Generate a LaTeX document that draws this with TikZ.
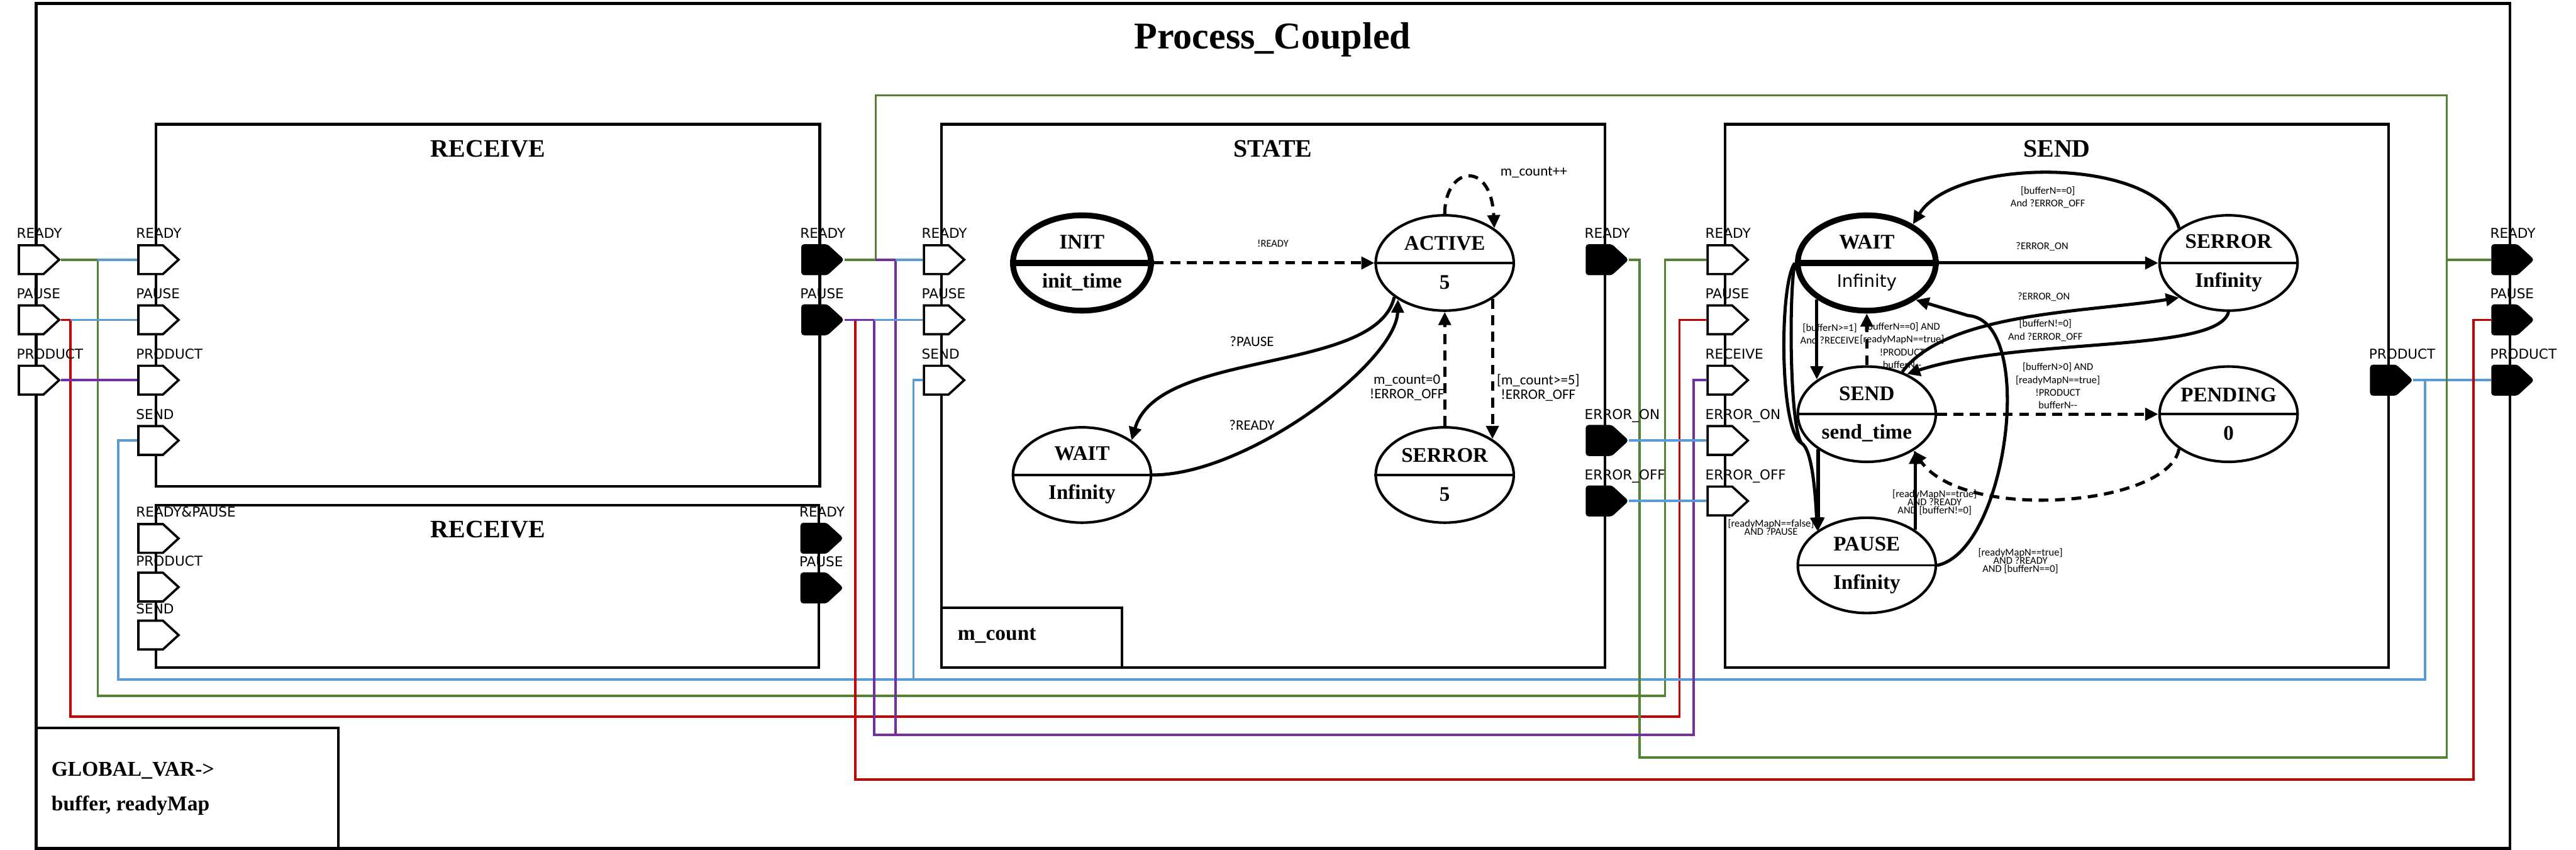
\documentclass[tikz,border=0pt]{standalone}
\usepackage{fontspec}
\setmainfont{Liberation Serif}
\newfontfamily\portfont{DejaVu Sans}
\newfontfamily\lblfont{Carlito}
\usetikzlibrary{positioning,arrows.meta,shapes.geometric,shapes.symbols,backgrounds}
\setlength{\lineskiplimit}{-5pt}

\definecolor{wireGreen}{RGB}{84,130,53}
\definecolor{wireBlue}{RGB}{91,155,213}
\definecolor{wireRed}{RGB}{192,0,0}
\definecolor{wirePurple}{RGB}{112,48,160}

\begin{document}
\begin{tikzpicture}[
  x=0.2mm, y=-0.2mm,
  boxline/.style={draw, line width=0.9pt},
  wire/.style={line width=0.8pt},
  wgreen/.style={wire, draw=wireGreen},
  wblue/.style={wire, draw=wireBlue},
  wred/.style={wire, draw=wireRed},
  wpurple/.style={wire, draw=wirePurple},
  inport/.style={signal, signal to=east, signal pointer angle=85, draw, line width=0.8pt, fill=white, minimum width=4.9mm, minimum height=3.5mm, inner sep=0pt, anchor=west},
  outport/.style={inport, fill=black, rounded corners=0.25mm},
  portlbl/.style={font=\portfont\fontsize{4.7}{5}\selectfont, inner sep=0pt, anchor=base west, xshift=-0.2mm, yshift=0.7mm},
  boxtitle/.style={font=\bfseries\fontsize{8.7}{10}\selectfont, inner sep=0pt, anchor=base},
  varname/.style={font=\bfseries\fontsize{7.3}{9}\selectfont, inner sep=0pt, anchor=base west},
  state/.style={ellipse, draw, line width=0.9pt, minimum width=16.8mm, minimum height=11.6mm, inner sep=0pt, align=center, font=\bfseries\fontsize{7.2}{13.4}\selectfont},
  initstate/.style={state, line width=2pt},
  trans/.style={line width=1.1pt, -{Triangle[length=1.6mm, width=1.5mm]}},
  dtrans/.style={trans, dash pattern=on 1.2mm off 0.8mm},
  guard/.style={font=\lblfont\fontsize{3.6}{4.4}\selectfont, align=center, inner sep=0pt},
  guardbig/.style={guard, font=\lblfont\fontsize{5}{5.1}\selectfont},
  guardtight/.style={guard, font=\lblfont\fontsize{3.6}{2.8}\selectfont}
]
\useasboundingbox (0,0) rectangle (1568,517);

% Frames
\draw[boxline] (22,2.1) rectangle (1527.7,516.2);
\draw[boxline] (95,75.6) rectangle (499,295.9);
\draw[boxline] (95,307.4) rectangle (498.5,406.1);
\draw[boxline] (573,75.6) rectangle (976.8,406);
\draw[boxline] (573,369.7) rectangle (683,406);
\draw[boxline] (1050,75.6) rectangle (1454,406);
\draw[boxline] (22,443) rectangle (206,516.2);

\node[font=\bfseries\fontsize{13.1}{15}\selectfont, inner sep=0pt, anchor=base] (title) at (774.5,29.6) {Process\_Coupled};
\node[boxtitle] (tRecv) at (297,95.4) {RECEIVE};
\node[boxtitle] (tRecvB) at (297,327.2) {RECEIVE};
\node[boxtitle] (tState) at (774.8,95.4) {STATE};
\node[boxtitle] (tSend) at (1252,95.4) {SEND};
\node[varname] (vCount) at (582.6,389.6) {m\_count};
\node[varname] (vGlobal) at (31,472.3) {GLOBAL\_VAR->};
\node[varname] (vBuffer) at (31,493.3) {buffer, readyMap};

% Ports: outer inputs
\foreach \nm/\yy/\lbl in {R/158/READY, P/194.6/PAUSE, D/231.3/PRODUCT}{
  \node[inport] (pin\nm) at (10.8,\yy) {};
  \node[portlbl] (lpin\nm) at (pin\nm.west |- pin\nm.north) {\lbl};
}
% Ports: outer outputs
\foreach \nm/\yy/\lbl in {R/158/READY, P/194.6/PAUSE, D/231.3/PRODUCT}{
  \node[outport] (pout\nm) at (1516.4,\yy) {};
  \node[portlbl] (lpout\nm) at (pout\nm.west |- pout\nm.north) {\lbl};
}
% Ports: RECEIVE
\foreach \nm/\yy/\lbl in {R/158/READY, P/194.6/PAUSE, D/231.3/PRODUCT, S/268/SEND}{
  \node[inport] (rin\nm) at (83.5,\yy) {};
  \node[portlbl] (lrin\nm) at (rin\nm.west |- rin\nm.north) {\lbl};
}
\foreach \nm/\yy/\lbl in {R/158/READY, P/194.6/PAUSE}{
  \node[outport] (rout\nm) at (487.7,\yy) {};
  \node[portlbl] (lrout\nm) at (rout\nm.west |- rout\nm.north) {\lbl};
}
% Ports: second RECEIVE
\foreach \nm/\yy/\lbl in {RP/327.6/READY\&PAUSE, D/357.2/PRODUCT, S/386.4/SEND}{
  \node[inport] (bin\nm) at (83.5,\yy) {};
  \node[portlbl] (lbin\nm) at (bin\nm.west |- bin\nm.north) {\lbl};
}
\foreach \nm/\yy/\lbl in {R/327.5/READY, P/357.7/PAUSE}{
  \node[outport] (bout\nm) at (487.2,\yy) {};
  \node[portlbl] (lbout\nm) at (bout\nm.west |- bout\nm.north) {\lbl};
}
% Ports: STATE
\foreach \nm/\yy/\lbl in {R/158/READY, P/194.6/PAUSE, S/231.3/SEND}{
  \node[inport] (sin\nm) at (561.7,\yy) {};
  \node[portlbl] (lsin\nm) at (sin\nm.west |- sin\nm.north) {\lbl};
}
\foreach \nm/\yy/\lbl in {R/158/READY, N/268/ERROR\_ON, F/304.8/ERROR\_OFF}{
  \node[outport] (sout\nm) at (965.2,\yy) {};
  \node[portlbl] (lsout\nm) at (sout\nm.west |- sout\nm.north) {\lbl};
}
% Ports: SEND
\foreach \nm/\yy/\lbl in {R/158/READY, P/194.6/PAUSE, C/231.3/RECEIVE, N/268/ERROR\_ON, F/304.8/ERROR\_OFF}{
  \node[inport] (din\nm) at (1038.7,\yy) {};
  \node[portlbl] (ldin\nm) at (din\nm.west |- din\nm.north) {\lbl};
}
\node[outport] (doutD) at (1442.6,231.3) {};
\node[portlbl] (ldoutD) at (doutD.west |- doutD.north) {PRODUCT};

% Couplings (behind the ports)
\begin{scope}[on background layer]
\draw[wgreen] (pinR.east) -- (59.5,158) |- (1013.5,423.5) |- (dinR.west);
\draw[wblue] (59.5,158) -- (rinR.west);
\draw[wred] (pinP.east) -- (43,194.6) |- (1022.3,436) |- (dinP.west);
\draw[wblue] (43,194.6) -- (rinP.west);
\draw[wpurple] (pinD.east) -- (rinD.west);
\draw[wblue] (rinS.west) -- (72,268) |- (1476,413.4) -- (1476,231.3);
\draw[wblue] (556,413.4) |- (sinS.west);
\draw[wblue] (doutD.east) -- (poutD.west);
\draw[wgreen] (routR.east) -- (533,158) |- (1489.3,58) |- (poutR.west);
\draw[wgreen] (soutR.east) -| (998,461) -| (1489.3,158);
\draw[wred] (520.7,194.6) |- (1505.6,474.2) |- (poutP.west);
\draw[wpurple] (533,158) -| (545,447);
\draw[wpurple] (routP.east) -| (532,447) -| (1030.8,231.3) -- (dinC.west);
\draw[wblue] (545,158) -- (sinR.west);
\draw[wblue] (532,194.6) -- (sinP.west);
\draw[wblue] (soutN.east) -- (dinN.west);
\draw[wblue] (soutF.east) -- (dinF.west);
\end{scope}

% STATE machine
\node[initstate] (iInit) at (658.6,160) {INIT\\init\_time};
\node[state] (iActive) at (879.4,160) {ACTIVE\\5};
\node[state] (iWait) at (658.6,289) {WAIT\\Infinity};
\node[state] (iSerror) at (879.4,289) {SERROR\\5};
\draw[line width=2pt] (iInit.west) -- (iInit.east);
\foreach \s in {iActive,iWait,iSerror}
  \draw[line width=0.8pt] (\s.west) -- (\s.east);

\draw[dtrans] (iInit.east) -- (iActive.west);
\node[guard] (gInit) at (774.8,148.2) {!READY};
\draw[dtrans] (iActive.north) .. controls +(0,-29) and +(-2,-42) .. (iActive.35);
\node[guardbig] (gLoop) at (933.6,104.7) {m\_count++};
\draw[trans] (iActive.214) .. controls (838,228) and (705,212) .. (iWait.35);
\node[guardbig] (gPause) at (762,207.8) {?PAUSE};
\draw[trans] (iWait.east) .. controls (760,289) and (850,220) .. (iActive.218);
\node[guardbig] (gReady) at (762,258.8) {?READY};
\draw[dtrans] (iSerror.north) -- (iActive.south);
\node[guardbig] (gOff) at (856.4,235.8) {m\_count=0\\!ERROR\_OFF};
\draw[dtrans] (iActive.-37) -- (iActive.-37 |- iSerror.37);
\node[guardbig] (gOn) at (936.3,235.8) {[m\_count>=5]\\!ERROR\_OFF};

% SEND machine
\node[initstate] (oWait) at (1136.3,160) {WAIT\\{\portfont\mdseries\fontsize{6}{13.4}\selectfont Infinity}};
\node[state] (oSend) at (1136.3,252) {SEND\\send\_time};
\node[state] (oPause) at (1136.3,344) {PAUSE\\Infinity};
\node[state] (oSerror) at (1356.5,160) {SERROR\\Infinity};
\node[state] (oPending) at (1356.5,252) {PENDING\\0};
\draw[line width=2pt] (oWait.west) -- (oWait.east);
\foreach \s in {oSend,oPause,oSerror,oPending}
  \draw[line width=0.8pt] (\s.west) -- (\s.east);

\draw[trans] (oWait.east) -- (oSerror.west);
\node[guard] (gErrOn) at (1243,149.9) {?ERROR\_ON};
\draw[trans] (oSerror.145) .. controls (1315,95) and (1190,95) .. (oWait.40);
\node[guard] (gErrOffA) at (1246.5,120.2) {[bufferN==0]\\And ?ERROR\_OFF};
\draw[trans] (oSend.50) .. controls (1185,190) and (1270,190) .. (oSerror.215);
\node[guard] (gErrOnB) at (1244,180.7) {?ERROR\_ON};
\draw[trans] (oSerror.south) .. controls (1350,215) and (1230,205) .. (oSend.45);
\node[guard] (gErrOffB) at (1245,201) {[bufferN!=0]\\And ?ERROR\_OFF};
\draw[trans] (oWait.216) -- (oWait.216 |- oSend.145);
\node[guard] (gRecv) at (1113.8,203) {[bufferN>=1]\\And ?RECEIVE};
\draw[dtrans] (oSend.north) -- (oWait.south);
\node[guard] (gBack) at (1157.8,210.2) {[bufferN==0] AND\\{}[readyMapN==true]\\!PRODUCT\\bufferN-{}-};
\draw[dtrans] (oSend.east) -- (oPending.west);
\node[guard] (gProd) at (1252.6,234.8) {[bufferN>0] AND\\{}[readyMapN==true]\\!PRODUCT\\bufferN-{}-};
\draw[dtrans] (oPending.215) .. controls (1320,308) and (1195,318) .. (oSend.-38);
\draw[trans] (oSend.216) -- (oSend.216 |- oPause.145);
\node[guardtight] (gToPause) at (1078,320.8) {{}[readyMapN==false]\\AND ?PAUSE};
\draw[trans] (oPause.36) -- (oPause.36 |- oSend.-38);
\node[guardtight] (gResume) at (1177.6,305.6) {{}[readyMapN==true]\\AND ?READY\\AND [bufferN!=0]};
\draw[trans] (oPause.east) .. controls (1222,335) and (1240,195) .. (1198,192) -- (oWait.-37);
\node[guardtight] (gIdle) at (1229.8,341.3) {{}[readyMapN==true]\\AND ?READY\\AND [bufferN==0]};
\draw[trans] (oWait.west) .. controls (1083,172) and (1083,262) .. (1096.5,269.6) .. controls (1103,273) and (1105,300) .. (oPause.145);
\draw[line width=1.1pt] (oWait.west) .. controls (1089,175) and (1089,258) .. (1096.5,269.6);
\end{tikzpicture}
\end{document}
